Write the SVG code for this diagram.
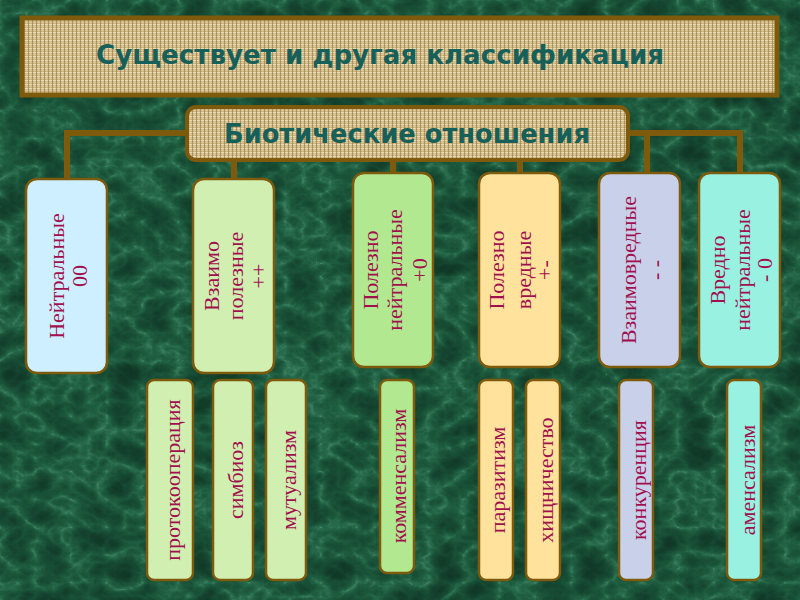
<svg xmlns="http://www.w3.org/2000/svg" width="800" height="600" viewBox="0 0 800 600">
<defs>
<filter id="marble" x="0" y="0" width="800" height="600" filterUnits="userSpaceOnUse" color-interpolation-filters="sRGB">
<feTurbulence type="turbulence" baseFrequency="0.028 0.036" numOctaves="4" seed="7" result="t"/>
<feColorMatrix in="t" type="matrix" values="1 0 0 0 0  1 0 0 0 0  1 0 0 0 0  0 0 0 0 1" result="g"/>
<feComponentTransfer in="g">
<feFuncR type="table" tableValues="0.26 0.16 0.12 0.10 0.09 0.08 0.07 0.07 0.06 0.06"/>
<feFuncG type="table" tableValues="0.52 0.42 0.36 0.32 0.29 0.26 0.24 0.22 0.21 0.20"/>
<feFuncB type="table" tableValues="0.40 0.30 0.25 0.22 0.20 0.18 0.16 0.15 0.14 0.14"/>
<feFuncA type="linear" slope="0" intercept="1"/>
</feComponentTransfer>
</filter>
<pattern id="burlap" width="4" height="4" patternUnits="userSpaceOnUse">
<rect width="4" height="4" fill="#c4aa74"/>
<rect x="0" y="0" width="4" height="1.2" fill="#e8d9ae"/>
<rect x="0" y="2" width="4" height="0.8" fill="#dccb98"/>
<rect x="0" y="0" width="1" height="4" fill="#9c8250" opacity="0.7"/>
<rect x="2.5" y="0" width="0.6" height="4" fill="#f0e3bd" opacity="0.6"/>
</pattern>
<style>
.conn{stroke:#7d5a0c;stroke-width:6;fill:none;stroke-linecap:square}
.banner{fill:url(#burlap);stroke:#7d5a0c}
.head{font-family:"DejaVu Sans","Liberation Sans",sans-serif;font-weight:bold;fill:#17605a;text-anchor:middle}
.box{stroke:#7d5a0c;stroke-width:2.5}
.lbl{font-family:"Liberation Serif","DejaVu Serif",serif;font-size:22px;fill:#a0104e;text-anchor:middle;dominant-baseline:central}
.blue{fill:#cdefff}
.lgreen{fill:#d2efb2}
.green{fill:#b2e890}
.yellow{fill:#ffe39c}
.lav{fill:#c9d1ea}
.aqua{fill:#99f1e2}
</style>
</defs>
<rect width="800" height="600" fill="#13492a" filter="url(#marble)"/>

<g id="connectors">
<path class="conn" d="M187 133 H67 V180"/>
<path class="conn" d="M234 160 V180"/>
<path class="conn" d="M393 160 V173"/>
<path class="conn" d="M520 160 V173"/>
<path class="conn" d="M628 133 H740 V173"/>
<path class="conn" d="M647 133 V173"/>
</g>

<g id="title">
<rect class="banner" x="22" y="18" width="755" height="77" stroke-width="5"/>
<text class="head" x="380" y="64" font-size="27" textLength="568" lengthAdjust="spacingAndGlyphs">Существует и другая классификация</text>
</g>

<g id="biotic">
<rect class="banner" x="187" y="107" width="441" height="53" rx="9" stroke-width="4"/>
<text class="head" x="407" y="143" font-size="26" textLength="366" lengthAdjust="spacingAndGlyphs">Биотические отношения</text>
</g>

<g id="neutral">
<rect class="box blue" x="26" y="179" width="81" height="194" rx="11"/>
<text class="lbl" transform="rotate(-90 56 276)" x="56" y="276">Нейтральные</text>
<text class="lbl" transform="rotate(-90 79 276)" x="79" y="276">00</text>
</g>

<g id="mutual">
<rect class="box lgreen" x="193" y="179" width="81" height="194" rx="11"/>
<text class="lbl" transform="rotate(-90 211 276)" x="211" y="276">Взаимо</text>
<text class="lbl" transform="rotate(-90 235 276)" x="235" y="276">полезные</text>
<text class="lbl" transform="rotate(-90 258 276)" x="258" y="276">++</text>
</g>

<g id="useful-neutral">
<rect class="box green" x="353" y="173" width="80" height="194" rx="11"/>
<text class="lbl" transform="rotate(-90 370 270)" x="370" y="270">Полезно</text>
<text class="lbl" transform="rotate(-90 394 270)" x="394" y="270">нейтральные</text>
<text class="lbl" transform="rotate(-90 419 270)" x="419" y="270">+0</text>
</g>

<g id="useful-harmful">
<rect class="box yellow" x="479" y="173" width="81" height="194" rx="11"/>
<text class="lbl" transform="rotate(-90 496 270)" x="496" y="270">Полезно</text>
<text class="lbl" transform="rotate(-90 523 270)" x="523" y="270">вредные</text>
<text class="lbl" transform="rotate(-90 544 270)" x="544" y="270">+-</text>
</g>

<g id="mutual-harmful">
<rect class="box lav" x="599" y="173" width="81" height="194" rx="11"/>
<text class="lbl" transform="rotate(-90 628 270)" x="628" y="270">Взаимовредные</text>
<text class="lbl" transform="rotate(-90 655 270)" x="655" y="270">- -</text>
</g>

<g id="harmful-neutral">
<rect class="box aqua" x="699" y="173" width="81" height="194" rx="11"/>
<text class="lbl" transform="rotate(-90 717 270)" x="717" y="270">Вредно</text>
<text class="lbl" transform="rotate(-90 742 270)" x="742" y="270">нейтральные</text>
<text class="lbl" transform="rotate(-90 764 270)" x="764" y="270">- 0</text>
</g>

<g id="protocooperation">
<rect class="box lgreen" x="147" y="380" width="46" height="200" rx="7"/>
<text class="lbl" transform="rotate(-90 172 480)" x="172" y="480">протокооперация</text>
</g>
<g id="symbiosis">
<rect class="box lgreen" x="213" y="380" width="40" height="200" rx="7"/>
<text class="lbl" transform="rotate(-90 235 480)" x="235" y="480">симбиоз</text>
</g>
<g id="mutualism">
<rect class="box lgreen" x="266" y="380" width="40" height="200" rx="7"/>
<text class="lbl" transform="rotate(-90 288 480)" x="288" y="480">мутуализм</text>
</g>
<g id="commensalism">
<rect class="box green" x="380" y="380" width="34" height="193" rx="7"/>
<text class="lbl" transform="rotate(-90 398 476)" x="398" y="476">комменсализм</text>
</g>
<g id="parasitism">
<rect class="box yellow" x="479" y="380" width="34" height="200" rx="7"/>
<text class="lbl" transform="rotate(-90 497 480)" x="497" y="480">паразитизм</text>
</g>
<g id="predation">
<rect class="box yellow" x="526" y="380" width="34" height="200" rx="7"/>
<text class="lbl" transform="rotate(-90 545 480)" x="545" y="480">хищничество</text>
</g>
<g id="competition">
<rect class="box lav" x="619" y="380" width="34" height="200" rx="7"/>
<text class="lbl" transform="rotate(-90 638 480)" x="638" y="480">конкуренция</text>
</g>
<g id="amensalism">
<rect class="box aqua" x="727" y="380" width="34" height="200" rx="7"/>
<text class="lbl" transform="rotate(-90 747 480)" x="747" y="480">аменсализм</text>
</g>
</svg>
